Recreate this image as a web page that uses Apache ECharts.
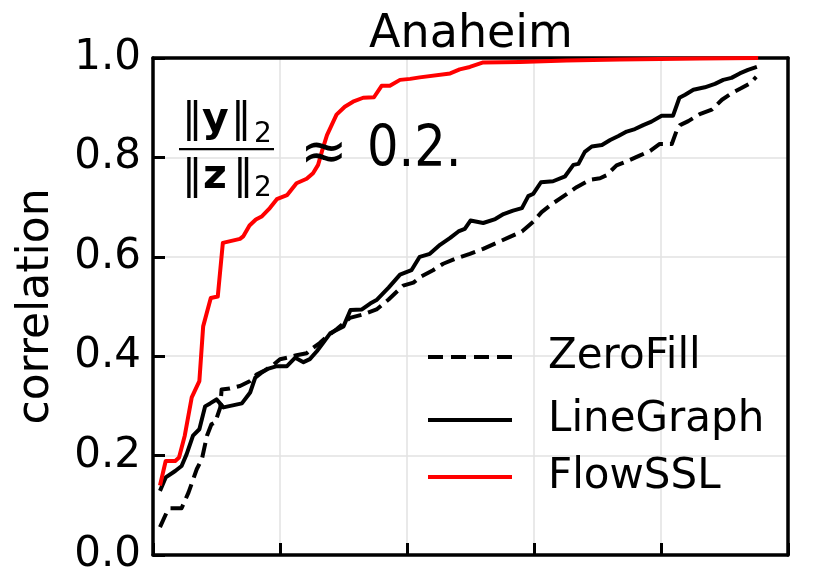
<!DOCTYPE html>
<html>
<head>
<meta charset="utf-8">
<script src="https://cdn.jsdelivr.net/npm/echarts@6/dist/echarts.min.js"></script>
<style>
  html, body { margin: 0; padding: 0; background: #fff; }
  #chart { width: 824px; height: 576px; }
</style>
</head>
<body>
<div id="chart"></div>
<script>
// Sorted per-node correlation curves for the Anaheim network (x in % of nodes).
const seriesNames = ['ZeroFill', 'LineGraph', 'FlowSSL'];

const xZeroFill = [1.1, 2.2, 2.7, 4.5, 5.6, 6.9, 7.7, 8.5, 9.2, 9.8, 10.6, 10.8, 12.1, 13.7, 15.3, 16.3, 17.4, 18.9, 20.0, 21.1, 22.6, 24.2, 25.2, 26.3, 27.4, 28.9, 31.0, 33.1, 35.2, 37.1, 39.4, 41.0, 42.3, 44.1, 45.7, 47.6, 49.9, 52.0, 54.1, 56.2, 58.1, 59.9, 61.2, 62.8, 64.9, 66.7, 68.8, 70.4, 71.4, 73.0, 74.6, 76.7, 78.3, 79.8, 81.7, 82.5, 83.0, 84.3, 86.1, 88.0, 89.6, 91.1, 92.6, 94.0, 95.0];
const yZeroFill = [0.056, 0.087, 0.094, 0.094, 0.126, 0.173, 0.193, 0.240, 0.263, 0.267, 0.297, 0.333, 0.335, 0.340, 0.350, 0.363, 0.370, 0.382, 0.394, 0.397, 0.402, 0.406, 0.417, 0.427, 0.440, 0.454, 0.477, 0.484, 0.494, 0.514, 0.542, 0.548, 0.561, 0.573, 0.586, 0.596, 0.606, 0.616, 0.628, 0.640, 0.651, 0.671, 0.690, 0.706, 0.724, 0.740, 0.755, 0.758, 0.764, 0.784, 0.792, 0.804, 0.813, 0.827, 0.827, 0.855, 0.865, 0.873, 0.887, 0.896, 0.916, 0.929, 0.939, 0.949, 0.962];

const xLineGraph = [1.1, 2.0, 3.5, 4.5, 5.3, 6.3, 7.3, 8.2, 9.0, 10.0, 11.1, 14.0, 15.3, 16.1, 17.1, 18.2, 19.5, 21.1, 22.4, 23.7, 24.7, 25.8, 26.8, 27.9, 30.0, 31.1, 32.9, 34.2, 35.2, 37.1, 38.9, 40.7, 42.0, 43.6, 45.2, 46.8, 48.1, 49.1, 50.0, 52.0, 53.9, 55.2, 56.7, 58.1, 59.1, 59.9, 61.1, 63.0, 64.9, 66.2, 67.0, 68.0, 69.1, 70.7, 72.0, 73.3, 74.6, 75.9, 77.2, 78.5, 80.1, 81.9, 82.9, 83.8, 85.1, 86.9, 88.5, 89.8, 91.1, 92.4, 93.7, 95.1];
const yLineGraph = [0.129, 0.156, 0.169, 0.179, 0.203, 0.240, 0.253, 0.299, 0.305, 0.313, 0.297, 0.305, 0.327, 0.357, 0.367, 0.375, 0.380, 0.380, 0.397, 0.388, 0.394, 0.410, 0.427, 0.446, 0.460, 0.493, 0.494, 0.506, 0.513, 0.538, 0.564, 0.573, 0.600, 0.606, 0.624, 0.638, 0.651, 0.656, 0.673, 0.668, 0.676, 0.686, 0.693, 0.698, 0.722, 0.727, 0.750, 0.752, 0.762, 0.785, 0.787, 0.811, 0.822, 0.825, 0.835, 0.843, 0.852, 0.857, 0.865, 0.872, 0.884, 0.884, 0.920, 0.926, 0.936, 0.941, 0.948, 0.956, 0.960, 0.969, 0.976, 0.982];

const xFlowSSL = [1.1, 2.0, 3.5, 4.1, 5.0, 6.1, 7.3, 7.9, 9.1, 10.2, 11.0, 13.7, 14.2, 15.2, 16.2, 17.1, 18.4, 19.5, 20.3, 21.1, 22.6, 24.2, 25.2, 26.0, 26.6, 27.4, 28.9, 30.2, 31.5, 33.1, 34.8, 36.0, 37.3, 38.9, 40.5, 42.0, 46.8, 48.3, 49.9, 52.0, 57.8, 65.1, 73.5, 86.1, 95.3];
const yFlowSSL = [0.140, 0.189, 0.189, 0.196, 0.240, 0.317, 0.350, 0.460, 0.517, 0.520, 0.628, 0.636, 0.641, 0.663, 0.675, 0.681, 0.698, 0.716, 0.720, 0.724, 0.748, 0.757, 0.768, 0.785, 0.812, 0.845, 0.886, 0.902, 0.912, 0.920, 0.921, 0.944, 0.944, 0.956, 0.958, 0.961, 0.969, 0.977, 0.982, 0.991, 0.992, 0.995, 0.997, 0.999, 1.000];

const yTicks = [0.0, 0.2, 0.4, 0.6, 0.8, 1.0];

const FONT = 'DejaVu Sans';
const LINE_W = 4;
const DASH = [15, 7];
const pairs = (xs, ys) => xs.map((x, i) => [x, ys[i]]);

// legend keys: a solid bar and a four-dash bar, 84 px wide
const ICON_SOLID = 'path://M0,0H84V4H0Z';
const ICON_DASHED = 'path://M0,0H15V4H0Z M23,0H38V4H23Z M46,0H61V4H46Z M69,0H84V4H69Z';

const chart = echarts.init(document.getElementById('chart'), null, { renderer: 'canvas' });

const lineSeries = (name, xs, ys, color, type) => ({
  name,
  type: 'line',
  data: pairs(xs, ys),
  symbol: 'none',
  showSymbol: false,
  clip: false,
  animation: false,
  lineStyle: { color, width: LINE_W, type, join: 'round' },
  itemStyle: { color }
});

const legendAt = (name, icon, color, top) => ({
  data: [{ name, icon, itemStyle: { color } }],
  orient: 'vertical',
  left: 428,
  top,
  padding: 0,
  itemWidth: 84,
  itemHeight: 4,
  selectedMode: false,
  textStyle: { fontFamily: FONT, fontSize: 42, color: '#000', padding: [0, 0, 0, 31] }
});

const txt = (text, left, top, font, extra) => Object.assign({
  type: 'text', left, top, z: 10,
  style: { text, font, fill: '#000' }
}, extra || {});

const option = {
  backgroundColor: '#fff',
  animation: false,
  title: {
    text: 'Anaheim',
    left: 471,
    textAlign: 'center',
    top: 12,
    padding: 0,
    textStyle: { fontFamily: FONT, fontSize: 46, fontWeight: 'normal', color: '#000' }
  },
  grid: { left: 153, top: 58, width: 635, height: 498, show: false },
  legend: [
    legendAt('ZeroFill', ICON_DASHED, '#000', 336),
    legendAt('LineGraph', ICON_SOLID, '#000', 399),
    legendAt('FlowSSL', ICON_SOLID, '#ff0000', 456)
  ],
  xAxis: [
    {
      type: 'value', min: 0, max: 100, interval: 20, position: 'bottom',
      axisLine: { show: true, onZero: false, lineStyle: { color: '#000', width: 3.5 } },
      axisTick: { show: true, inside: true, length: 12, lineStyle: { color: '#000', width: 3 } },
      axisLabel: { show: false },
      splitLine: { show: true, lineStyle: { color: '#e2e2e2', width: 1.5 } }
    },
    {
      type: 'value', min: 0, max: 100, position: 'top',
      axisLine: { show: true, onZero: false, lineStyle: { color: '#000', width: 3.5 } },
      axisTick: { show: false }, axisLabel: { show: false }, splitLine: { show: false }
    }
  ],
  yAxis: [
    {
      type: 'value', min: 0, max: 1, interval: 0.2, position: 'left',
      name: 'correlation', nameLocation: 'middle', nameGap: 94, nameRotate: 90,
      nameTextStyle: { fontFamily: FONT, fontSize: 44, color: '#000' },
      axisLine: { show: true, onZero: false, lineStyle: { color: '#000', width: 3.5 } },
      axisTick: { show: true, inside: true, length: 12, lineStyle: { color: '#000', width: 3 } },
      axisLabel: {
        show: true, margin: 12, fontFamily: FONT, fontSize: 42, color: '#000',
        formatter: v => {
          const t = yTicks.find(k => Math.abs(k - v) < 1e-9);
          return (t === undefined ? v : t).toFixed(1);
        }
      },
      splitLine: { show: true, lineStyle: { color: '#e2e2e2', width: 1.5 } }
    },
    {
      type: 'value', min: 0, max: 1, position: 'right',
      axisLine: { show: true, onZero: false, lineStyle: { color: '#000', width: 3.5 } },
      axisTick: { show: false }, axisLabel: { show: false }, splitLine: { show: false }
    }
  ],
  series: [
    lineSeries(seriesNames[0], xZeroFill, yZeroFill, '#000', DASH),
    lineSeries(seriesNames[1], xLineGraph, yLineGraph, '#000', 'solid'),
    lineSeries(seriesNames[2], xFlowSSL, yFlowSSL, '#ff0000', 'solid')
  ],
  graphic: [
    // norm-ratio annotation: ||y||_2 / ||z||_2 ≈ 0.2.
    txt('‖', 182, 100, '41px "DejaVu Sans"'),
    txt('y', 202, 100, 'bold 41px "DejaVu Sans"'),
    txt('‖', 231, 100, '41px "DejaVu Sans"'),
    txt('2', 254, 121, '28px "DejaVu Sans"'),
    { type: 'rect', shape: { x: 179, y: 148, width: 95, height: 2.2 }, style: { fill: '#000' }, z: 10 },
    txt('‖', 182, 157, '41px "DejaVu Sans"'),
    txt('z', 203, 157, 'bold 41px "DejaVu Sans"'),
    txt('‖', 233, 157, '41px "DejaVu Sans"'),
    txt('2', 254, 175, '28px "DejaVu Sans"'),
    txt('≈', 300, 127, '57px "DejaVu Sans"'),
    txt('0.2.', 367, 123, '57px "DejaVu Sans"', { scaleX: 0.87 })
  ]
};

chart.setOption(option);
</script>
</body>
</html>
